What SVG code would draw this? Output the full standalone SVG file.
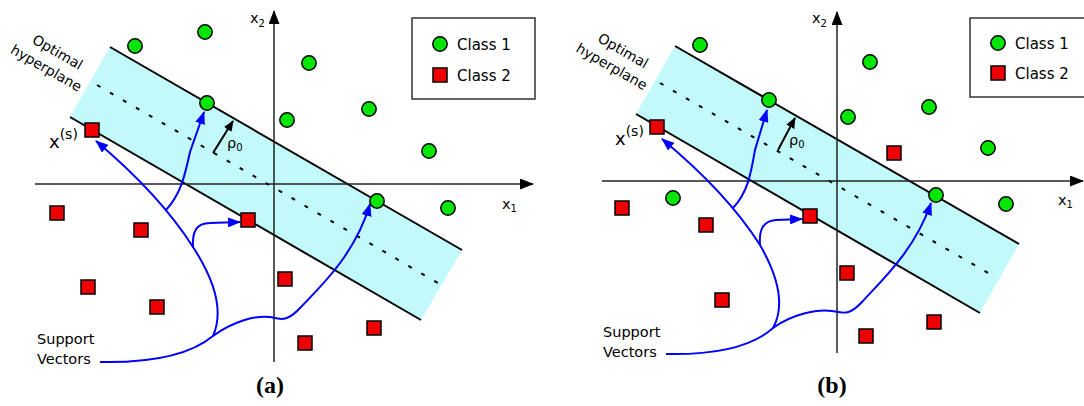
<svg xmlns="http://www.w3.org/2000/svg" width="1084" height="406" viewBox="0 0 1084 406">
<style>
.band{fill:#c2f9fb;stroke:none}
.edge{stroke:#000;stroke-width:2;fill:none}
.mid{stroke:#000;stroke-width:2;stroke-dasharray:4 11;fill:none}
.axis{stroke:#222;stroke-width:1.5;fill:none}
.c1{fill:#00e600;stroke:#000;stroke-width:1.5}
.c2{fill:#ee0000;stroke:#000;stroke-width:1.5}
.sv{stroke:#0000ff;stroke-width:2;fill:none}
.t{font-family:"DejaVu Sans","Liberation Sans",sans-serif;fill:#000}
.leg{fill:#fff;stroke:#333;stroke-width:1.5}
.cap{font-family:"Liberation Serif","DejaVu Serif",serif;font-weight:bold;font-size:24px;fill:#000}
</style>
<defs>
<marker id="ab" viewBox="0 0 13 10" refX="12" refY="5" markerWidth="13" markerHeight="10" markerUnits="userSpaceOnUse" orient="auto"><path d="M0,0 L13,5 L0,10 z" fill="#0000ff"/></marker>
<marker id="ak" viewBox="0 0 14 11" refX="13" refY="5.5" markerWidth="14" markerHeight="11" markerUnits="userSpaceOnUse" orient="auto"><path d="M0,0 L14,5.5 L0,11 z" fill="#000"/></marker>
<marker id="ar" viewBox="0 0 11 9" refX="10" refY="4.5" markerWidth="11" markerHeight="9" markerUnits="userSpaceOnUse" orient="auto"><path d="M0,0 L11,4.5 L0,9 z" fill="#000"/></marker>
</defs>

<!-- Panel (a) -->
<g id="panel-a">
  <g id="a-margin">
    <polygon class="band" points="110,47 462,250 421,320 70,117"/>
    <line class="mid" x1="97" y1="85" x2="438" y2="283"/>
    <line class="edge" x1="110" y1="47" x2="462" y2="250"/>
    <line class="edge" x1="70" y1="117" x2="421" y2="320"/>
  </g>
  <g id="a-axes">
    <line class="axis" x1="35" y1="184" x2="533" y2="184" marker-end="url(#ak)"/>
    <line class="axis" x1="274" y1="362" x2="274" y2="11" marker-end="url(#ak)"/>
    <text class="t" x="250" y="23" font-size="14.5">x<tspan font-size="10" dy="4">2</tspan></text>
    <text class="t" x="502" y="209" font-size="14.5">x<tspan font-size="10" dy="3">1</tspan></text>
  </g>
  <g id="a-rho">
    <line stroke="#000" stroke-width="2" x1="213" y1="153" x2="233" y2="121" marker-end="url(#ar)"/>
    <text class="t" x="227" y="148" font-size="14.5">ρ<tspan font-size="10" dy="3">0</tspan></text>
  </g>
  <g id="a-connectors">
    <path class="sv" d="M100,362 C150,363 190,355 213,336 C221,318 221,290 193,247 Q160,195 96,141" marker-end="url(#ab)"/>
    <path class="sv" d="M166,210 C181,194 185,175 190,152 L204,112" marker-end="url(#ab)"/>
    <path class="sv" d="M193,248 C192,232 196,223 210,223 L240,222" marker-end="url(#ab)"/>
    <path class="sv" d="M213,336 C232,322 255,315 270,317 C280,319 286,323 300,308 C320,287 355,255 370,204" marker-end="url(#ab)"/>
  </g>
  <g id="a-class1">
    <circle class="c1" cx="135" cy="46" r="7.2"/>
    <circle class="c1" cx="205" cy="32" r="7.2"/>
    <circle class="c1" cx="207" cy="103" r="7.2"/>
    <circle class="c1" cx="309" cy="63" r="7.2"/>
    <circle class="c1" cx="287" cy="120" r="7.2"/>
    <circle class="c1" cx="369" cy="109" r="7.2"/>
    <circle class="c1" cx="429" cy="151" r="7.2"/>
    <circle class="c1" cx="377" cy="201" r="7.2"/>
    <circle class="c1" cx="448" cy="208" r="7.2"/>
  </g>
  <g id="a-class2">
    <rect class="c2" x="85" y="123" width="14" height="14"/>
    <rect class="c2" x="50" y="206" width="14" height="14"/>
    <rect class="c2" x="134" y="223" width="14" height="14"/>
    <rect class="c2" x="241" y="213" width="14" height="14"/>
    <rect class="c2" x="81" y="280" width="14" height="14"/>
    <rect class="c2" x="150" y="300" width="14" height="14"/>
    <rect class="c2" x="278" y="272" width="14" height="14"/>
    <rect class="c2" x="298" y="336" width="14" height="14"/>
    <rect class="c2" x="367" y="321" width="14" height="14"/>
  </g>
  <g id="a-labels">
    <g transform="translate(57.5,52.5) rotate(30)">
      <text class="t" x="0" y="4.5" font-size="14" text-anchor="middle">Optimal</text>
      <text class="t" x="-2" y="24" font-size="14" text-anchor="middle">hyperplane</text>
    </g>
    <text class="t" x="49" y="148" font-size="18">x<tspan font-size="14" dy="-9">(s)</tspan></text>
    <text class="t" x="37" y="344" font-size="14.5">Support</text>
    <text class="t" x="37" y="364" font-size="14.5">Vectors</text>
  </g>
  <g id="a-legend">
    <rect class="leg" x="412" y="18" width="123" height="81"/>
    <circle class="c1" cx="440" cy="44" r="7.2"/>
    <text class="t" x="457" y="50" font-size="15">Class 1</text>
    <rect class="c2" x="433" y="68" width="14" height="14"/>
    <text class="t" x="457" y="81" font-size="15">Class 2</text>
  </g>
  <text class="cap" x="270" y="393" text-anchor="middle">(a)</text>
</g>

<!-- Panel (b) -->
<g id="panel-b">
  <g id="b-margin">
    <polygon class="band" points="675,46 1019,244 980,313 636,114"/>
    <line class="mid" x1="660" y1="83" x2="995" y2="277"/>
    <line class="edge" x1="675" y1="46" x2="1019" y2="244"/>
    <line class="edge" x1="636" y1="114" x2="980" y2="313"/>
  </g>
  <g id="b-axes">
    <line class="axis" x1="602" y1="181" x2="1083" y2="181" marker-end="url(#ak)"/>
    <line class="axis" x1="837" y1="353" x2="837" y2="12" marker-end="url(#ak)"/>
    <text class="t" x="812" y="23" font-size="14.5">x<tspan font-size="10" dy="4">2</tspan></text>
    <text class="t" x="1058" y="205" font-size="14.5">x<tspan font-size="10" dy="3">1</tspan></text>
  </g>
  <g id="b-rho">
    <line stroke="#000" stroke-width="2" x1="778" y1="150" x2="795" y2="118" marker-end="url(#ar)"/>
    <text class="t" x="789" y="145" font-size="14.5">ρ<tspan font-size="10" dy="3">0</tspan></text>
  </g>
  <g id="b-connectors">
    <path class="sv" d="M666,354 C716,355 753,346 773,328 C783,310 783,285 760,245 Q727,193 662,139" marker-end="url(#ab)"/>
    <path class="sv" d="M733,208 C748,192 751,173 755,150 L767,110" marker-end="url(#ab)"/>
    <path class="sv" d="M760,245 C759,231 762,221 776,220 L802,219" marker-end="url(#ab)"/>
    <path class="sv" d="M773,328 C792,314 817,309 832,311 C843,313 849,316 862,302 C882,280 915,250 931,203" marker-end="url(#ab)"/>
  </g>
  <g id="b-class1">
    <circle class="c1" cx="700" cy="45" r="7.2"/>
    <circle class="c1" cx="769" cy="100" r="7.2"/>
    <circle class="c1" cx="673" cy="198" r="7.2"/>
    <circle class="c1" cx="870" cy="62" r="7.2"/>
    <circle class="c1" cx="848" cy="117" r="7.2"/>
    <circle class="c1" cx="929" cy="107" r="7.2"/>
    <circle class="c1" cx="988" cy="148" r="7.2"/>
    <circle class="c1" cx="936" cy="195" r="7.2"/>
    <circle class="c1" cx="1006" cy="204" r="7.2"/>
  </g>
  <g id="b-class2">
    <rect class="c2" x="650" y="120" width="14" height="14"/>
    <rect class="c2" x="887" y="146" width="14" height="14"/>
    <rect class="c2" x="615" y="201" width="14" height="14"/>
    <rect class="c2" x="699" y="218" width="14" height="14"/>
    <rect class="c2" x="803" y="209" width="14" height="14"/>
    <rect class="c2" x="715" y="293" width="14" height="14"/>
    <rect class="c2" x="840" y="266" width="14" height="14"/>
    <rect class="c2" x="859" y="329" width="14" height="14"/>
    <rect class="c2" x="927" y="315" width="14" height="14"/>
  </g>
  <g id="b-labels">
    <g transform="translate(623,51) rotate(30)">
      <text class="t" x="0" y="4.5" font-size="14" text-anchor="middle">Optimal</text>
      <text class="t" x="-2" y="24" font-size="14" text-anchor="middle">hyperplane</text>
    </g>
    <text class="t" x="615" y="145" font-size="18">x<tspan font-size="14" dy="-9">(s)</tspan></text>
    <text class="t" x="603" y="336.5" font-size="14.5">Support</text>
    <text class="t" x="603" y="356.5" font-size="14.5">Vectors</text>
  </g>
  <g id="b-legend">
    <rect class="leg" x="970" y="18" width="124" height="79"/>
    <circle class="c1" cx="998" cy="43" r="7.2"/>
    <text class="t" x="1015" y="49" font-size="15">Class 1</text>
    <rect class="c2" x="991" y="66" width="14" height="14"/>
    <text class="t" x="1015" y="79" font-size="15">Class 2</text>
  </g>
  <text class="cap" x="832" y="393" text-anchor="middle">(b)</text>
</g>
</svg>
